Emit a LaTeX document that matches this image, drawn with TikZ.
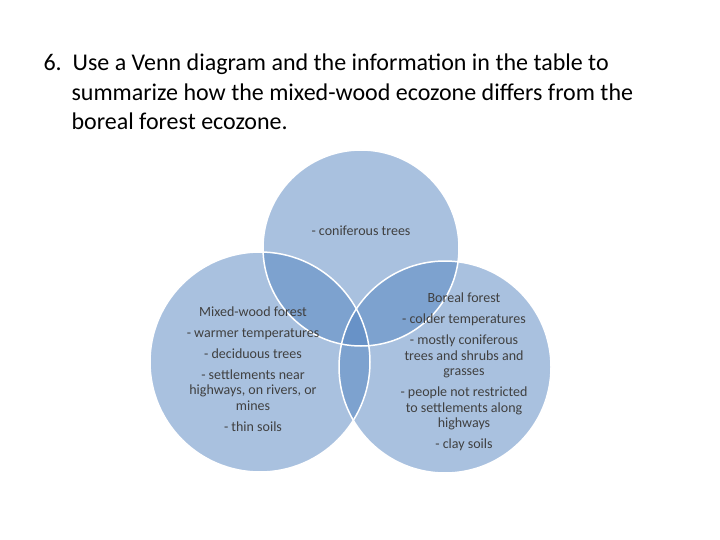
\documentclass[tikz,border=0pt]{standalone}
\usepackage{fontspec}
\setmainfont{Carlito}
\definecolor{venn}{HTML}{5383BF}
\definecolor{txt}{HTML}{404040}
\begin{document}
\begin{tikzpicture}[x=1pt,y=-1pt,
  circ/.style={fill=venn,fill opacity=0.5,draw=none},
  rim/.style={draw=white,line width=1.5pt},
  lab/.style={align=center,font=\fontsize{14}{15.5}\selectfont,text=txt}]
\useasboundingbox (0,0) rectangle (720,540);
\node[anchor=west,font=\fontsize{24}{29.5}\selectfont,align=left] (title) at (40,92)
 {6.\ \ Use a Venn diagram and the information in the table to\\
 \hspace{28pt}summarize how the mixed-wood ecozone differs from the\\
 \hspace{28pt}boreal forest ecozone.};
\fill[circ] (361,248) circle (98);
\fill[circ] (260,362) circle (110);
\fill[circ] (445,367) circle (106);
\draw[rim] (361,248) circle (98);
\draw[rim] (260,362) circle (110);
\draw[rim] (445,367) circle (106);
\node[lab] (top) at (361,231) {- coniferous trees};
\node[lab] (left) at (253,369) {Mixed-wood forest\\[5.5pt]- warmer temperatures\\[5.5pt]- deciduous trees\\[5.5pt]- settlements near\\highways, on rivers, or\\mines\\[5.5pt]- thin soils};
\node[lab] (right) at (464,372) {Boreal forest\\[5.5pt]- colder temperatures\\[5.5pt]- mostly coniferous\\trees and shrubs and\\grasses\\[5.5pt]- people not restricted\\to settlements along\\highways\\[5.5pt]- clay soils};
\end{tikzpicture}
\end{document}
